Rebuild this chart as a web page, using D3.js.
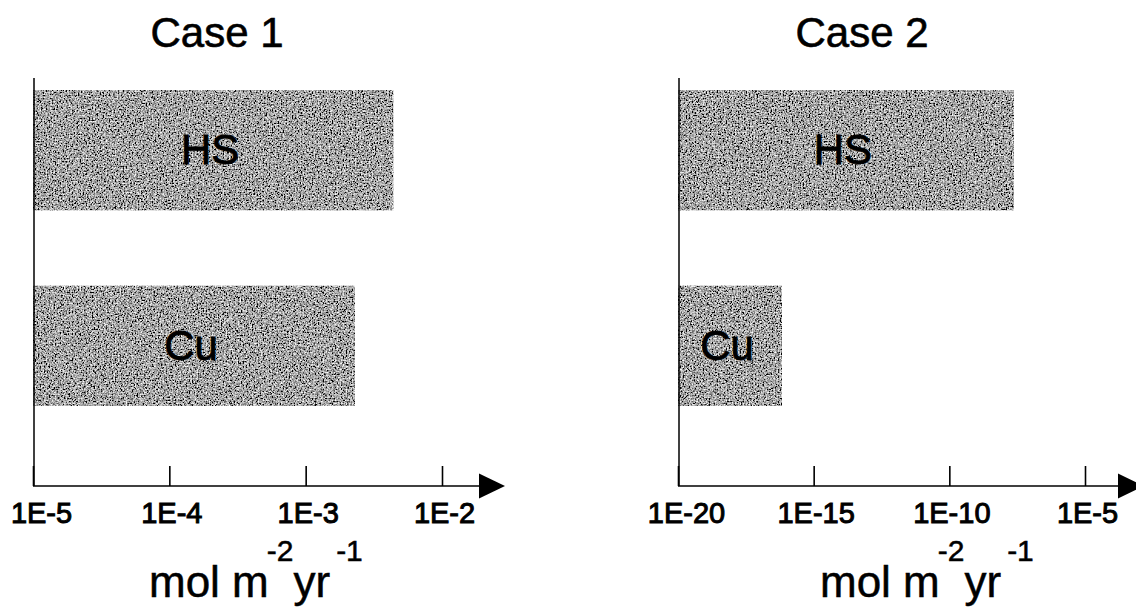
<!DOCTYPE html>
<html>
<head>
<meta charset="utf-8">
<script src="https://cdn.jsdelivr.net/npm/d3@7"></script>
<style>
  body { margin: 0; background: #fff; }
  svg { display: block; }
  text { font-family: "Liberation Sans", Arial, sans-serif; fill: #000; }
</style>
</head>
<body>
<svg width="1136" height="609"></svg>
<script>
// values
const substances = ["HS", "Cu"];
const titles = ["Case 1", "Case 2"];
const case1Flux = [4.4e-3, 2.3e-3];
const case2Flux = [2.4e-8, 6.8e-17];
const case1Ticks = [1e-5, 1e-4, 1e-3, 1e-2];
const case2Ticks = [1e-20, 1e-15, 1e-10, 1e-5];
const case1TickLabels = ["1E-5", "1E-4", "1E-3", "1E-2"];
const case2TickLabels = ["1E-20", "1E-15", "1E-10", "1E-5"];

let svg = d3.select("svg");
let axisY = 486;

// grainy print texture for the bars
let defs = svg.append("defs");
let f = defs.append("filter").attr("id", "grain")
  .attr("x", 0).attr("y", 0).attr("width", "100%").attr("height", "100%");
f.append("feTurbulence").attr("type", "fractalNoise")
  .attr("baseFrequency", 0.65).attr("numOctaves", 2).attr("seed", 7).attr("result", "n");
f.append("feColorMatrix").attr("in", "n").attr("type", "saturate").attr("values", 0).attr("result", "g");
let ct = f.append("feComponentTransfer").attr("in", "g").attr("result", "c");
["R", "G", "B"].forEach(ch => ct.append("feFunc" + ch).attr("type", "linear").attr("slope", 2.8).attr("intercept", -1.02));
ct.append("feFuncA").attr("type", "table").attr("tableValues", "1 1");
f.append("feComposite").attr("in", "c").attr("in2", "SourceGraphic").attr("operator", "in");

let y = d3.scaleBand().domain(substances).range([90, 406]).paddingInner(0.385).paddingOuter(0);

function drawPanel(opt) {
  let x = d3.scaleLog().domain([opt.ticks[0], opt.ticks[opt.ticks.length - 1]]).range(opt.range);
  let g = svg.append("g");
  let x0 = opt.range[0];

  // title
  g.append("text")
    .attr("x", opt.titleX).attr("y", 47)
    .attr("text-anchor", "middle")
    .style("font-size", "42px")
    .style("stroke", "#000").style("stroke-width", 0.6)
    .text(opt.title);

  // bars
  let rows = substances.map((s, i) => ({ name: s, value: opt.values[i] }));
  g.selectAll("rect.bar").data(rows).enter().append("rect")
    .attr("class", "bar")
    .attr("x", x0)
    .attr("y", d => y(d.name))
    .attr("width", d => x(d.value) - x0)
    .attr("height", y.bandwidth())
    .attr("fill", "#888")
    .attr("filter", "url(#grain)");

  g.selectAll("text.lab").data(rows).enter().append("text")
    .attr("class", "lab")
    .attr("x", d => (x0 + x(d.value)) / 2 - 3)
    .attr("y", d => y(d.name) + y.bandwidth() / 2 + 14)
    .attr("text-anchor", "middle")
    .style("font-size", "42px")
    .style("stroke", "#000").style("stroke-width", 0.8)
    .text(d => d.name);

  // vertical axis line
  g.append("line")
    .attr("x1", x0 + 1).attr("x2", x0 + 1)
    .attr("y1", 78).attr("y2", axisY)
    .attr("stroke", "#000").attr("stroke-width", 1.5);

  // x axis: ticks point up, labels below
  let ax = g.append("g")
    .attr("transform", `translate(0,${axisY})`)
    .call(d3.axisBottom(x)
      .tickValues(opt.ticks)
      .tickFormat((d, i) => opt.tickLabels[i])
      .tickSize(-20)
      .tickSizeOuter(0)
      .tickPadding(16));
  ax.select(".domain").remove();
  ax.selectAll(".tick line").attr("stroke", "#000").attr("stroke-width", 1.6);
  ax.selectAll(".tick text")
    .attr("dx", (d, i) => i === 0 ? 8 : 2)
    .style("font-size", "29px")
    .style("font-family", "'Liberation Sans', Arial, sans-serif")
    .style("stroke", "#000").style("stroke-width", 1);

  // axis line with arrow head
  g.append("line")
    .attr("x1", x0).attr("x2", opt.arrowBase + 2)
    .attr("y1", axisY).attr("y2", axisY)
    .attr("stroke", "#000").attr("stroke-width", 1.6);
  g.append("path")
    .attr("d", `M${opt.arrowBase},${axisY - 12.5}L${opt.arrowBase + 26},${axisY}L${opt.arrowBase},${axisY + 12.5}Z`)
    .attr("fill", "#000");

  // unit label
  let u = g.append("text")
    .attr("x", opt.unitX).attr("y", 597)
    .style("font-size", "44px")
    .style("stroke", "#000").style("stroke-width", 0.5);
  u.append("tspan").text("mol m");
  u.append("tspan").attr("dy", -36).attr("dx", -2).style("font-size", "30px").text("-2");
  u.append("tspan").attr("dy", 36).attr("dx", 0).text("yr");
  u.append("tspan").attr("dy", -36).attr("dx", 6).style("font-size", "30px").text("-1");
}

drawPanel({
  title: titles[0], titleX: 217,
  values: case1Flux, ticks: case1Ticks, tickLabels: case1TickLabels,
  range: [33, 442], arrowBase: 479, unitX: 149
});

drawPanel({
  title: titles[1], titleX: 862,
  values: case2Flux, ticks: case2Ticks, tickLabels: case2TickLabels,
  range: [678, 1085], arrowBase: 1118, unitX: 820
});
</script>
</body>
</html>
